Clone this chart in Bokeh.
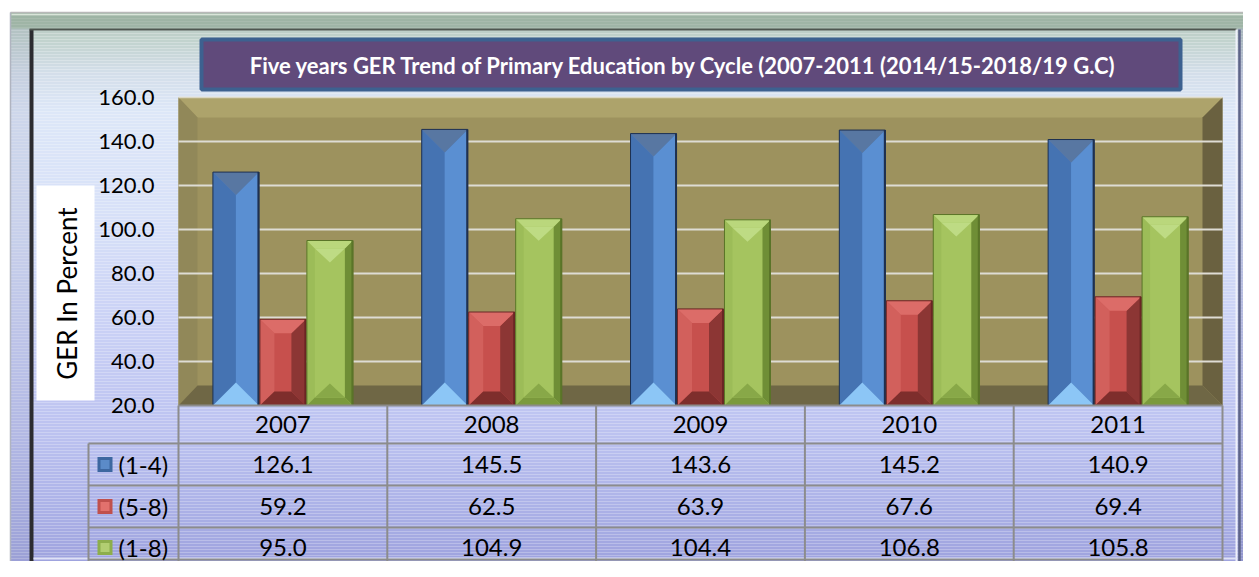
import numpy as np
from bokeh.plotting import figure
from bokeh.models import Range1d
from bokeh.core.properties import value
from bokeh.embed import file_html
from bokeh.resources import INLINE

# ---------------- data ----------------
years = ["2007", "2008", "2009", "2010", "2011"]
series_names = ["(1-4)", "(5-8)", "(1-8)"]
ger_1_4 = [126.1, 145.5, 143.6, 145.2, 140.9]
ger_5_8 = [59.2, 62.5, 63.9, 67.6, 69.4]
ger_1_8 = [95.0, 104.9, 104.4, 106.8, 105.8]
y_ticks = [20, 40, 60, 80, 100, 120, 140, 160]
title_text = "Five  years GER Trend  of  Primary Education by Cycle (2007-2011 (2014/15-2018/19 G.C)"
y_label = "GER In Percent"

# ---------------- layout (pixels) ----------------
W, H = 1243, 561
OX, OY = 0, 0
PA_L, PA_R, PA_T, PA_B = 178, 1222, 97, 405
YMIN, YMAX = 20, 160
N = len(years)
XPX = N / (PA_R - PA_L)
YPX = (YMAX - YMIN) / (PA_B - PA_T)

FONT = "Lato"

p = figure(width=W, height=H,
           x_range=Range1d((OX - PA_L) * XPX, (OX + W - PA_L) * XPX),
           y_range=Range1d(YMIN - (OY + H - PA_B) * YPX, YMAX + (PA_T - OY) * YPX),
           x_axis_type=None, y_axis_type=None, toolbar_location=None,
           output_backend="svg", min_border=0, outline_line_color=None,
           background_fill_color="white", border_fill_color="white")
p.extra_x_ranges = {"px": Range1d(OX, OX + W)}
p.extra_y_ranges = {"px": Range1d(OY + H, OY)}

PX = dict(x_range_name="px", y_range_name="px")
BOT = OY + H


def hexrgb(h):
    h = h.lstrip("#")
    return tuple(int(h[i:i + 2], 16) for i in (0, 2, 4))


def mix(c1, c2, t):
    a, b = hexrgb(c1), hexrgb(c2)
    return "#%02x%02x%02x" % tuple(int(round(a[i] + (b[i] - a[i]) * t)) for i in range(3))


# ---------------- background gradient ----------------
stops = [(12, "#b6c9bd"), (40, "#c2d3cf"), (70, "#d3dee9"), (110, "#dde7f8"),
         (220, "#d7e0f8"), (330, "#c9d0f5"), (430, "#bcc2f0"), (500, "#adb3e8"),
         (577, "#9a9edb")]
gl, gr, gt, gb, gc = [], [], [], [], []
for y in np.arange(12, BOT, 3):
    col = stops[-1][1]
    for k in range(len(stops) - 1):
        if stops[k][0] <= y <= stops[k + 1][0]:
            t = (y - stops[k][0]) / (stops[k + 1][0] - stops[k][0])
            col = mix(stops[k][1], stops[k + 1][1], t)
            break
    gl.append(10); gr.append(OX + W); gt.append(y); gb.append(min(y + 3, BOT)); gc.append(col)
p.quad(left=gl, right=gr, top=gt, bottom=gb, fill_color=gc, line_color=None, **PX)

# frame bands
p.quad(left=[10], right=[OX + W], top=[12], bottom=[28], fill_color="#7f9a82", fill_alpha=0.45,
       line_color=None, **PX)
p.quad(left=[10], right=[29], top=[28], bottom=[BOT], fill_color="#8890b0", fill_alpha=0.18,
       line_color=None, **PX)
p.quad(left=[1237], right=[OX + W], top=[28], bottom=[BOT], fill_color="#6a70a0", fill_alpha=0.25,
       line_color=None, **PX)
p.segment(x0=[10], x1=[OX + W], y0=[12], y1=[12], line_color="#b8b8b8", line_width=1.5, **PX)
p.segment(x0=[10], x1=[10], y0=[12], y1=[BOT], line_color="#b0b4c0", line_width=1.5, **PX)
p.segment(x0=[11], x1=[OX + W], y0=[14], y1=[14], line_color="#d8e4d8", line_width=1.5, **PX)
# inner recess edges
p.quad(left=[29], right=[33], top=[29], bottom=[BOT], fill_color="#2c2c30", line_color=None, **PX)
p.segment(x0=[29], x1=[1236], y0=[29], y1=[29], line_color="#4e5650", line_width=2, **PX)
p.segment(x0=[1236], x1=[1236], y0=[29], y1=[BOT], line_color="#eef0fa", line_width=2, **PX)
p.segment(x0=[1239], x1=[1239], y0=[29], y1=[BOT], line_color="#5e6488", line_width=2.5, **PX)
p.segment(x0=[33], x1=[1236], y0=[558], y1=[558], line_color="#dfe2f6", line_width=2, **PX)

# ---------------- title ----------------
p.quad(left=[201], right=[1180], top=[39], bottom=[89], fill_color="#604a7b",
       line_color="#3d6190", line_width=4, **PX)
p.text(x=[691], y=[65], text=[title_text], text_font=value(FONT), text_font_style="bold",
       text_font_size="22px", text_color="white", text_align="center",
       text_baseline="middle", **PX)

# ---------------- y label ----------------
p.quad(left=[36], right=[94], top=[185], bottom=[400], fill_color="white", line_color=None, **PX)
p.text(x=[66], y=[293], text=[y_label], angle=np.pi / 2, text_font=value(FONT),
       text_font_size="26px", text_color="black", text_align="center",
       text_baseline="middle", **PX)

# ---------------- plot area (3-D box) ----------------
p.quad(left=[PA_L], right=[PA_R], top=[PA_T], bottom=[PA_B], fill_color="#9d925e",
       line_color=None, **PX)
p.patch(x=[PA_L, PA_R, PA_R - 20, PA_L + 19], y=[PA_T, PA_T, PA_T + 20, PA_T + 20],
        fill_color="#ada36b", line_color=None, **PX)
p.patch(x=[PA_L, PA_L + 19, PA_L + 19, PA_L], y=[PA_T, PA_T + 20, PA_B - 20, PA_B],
        fill_color="#918859", line_color=None, **PX)
p.patch(x=[PA_R, PA_R - 20, PA_R - 20, PA_R], y=[PA_T, PA_T + 20, PA_B - 20, PA_B],
        fill_color="#6a6140", line_color=None, **PX)
p.patch(x=[PA_L, PA_L + 19, PA_R - 20, PA_R], y=[PA_B, PA_B - 20, PA_B - 20, PA_B],
        fill_color="#6f6745", line_color=None, **PX)
p.segment(x0=[PA_L], x1=[PA_R], y0=[PA_T], y1=[PA_T], line_color="#dcd8c4", line_width=1.5, **PX)

# gridlines (value scale)
grid_vals = [t for t in y_ticks if YMIN < t < YMAX]
p.segment(x0=[PA_L] * len(grid_vals), x1=[PA_R] * len(grid_vals), y0=grid_vals, y1=grid_vals,
          line_color="#dedcd4", line_width=2, x_range_name="px")

# y tick labels
p.text(x=[154] * len(y_ticks), y=y_ticks, text=["%.1f" % t for t in y_ticks],
       text_font=value(FONT), text_font_size="22px", text_color="black",
       text_align="right", text_baseline="middle", x_range_name="px")

# ---------------- bars with bevel ----------------
BW = 46 * XPX
idx = np.arange(N) + 0.5


def bevel_bar(vals, off, bxp, byp, cols, outline, inner_tri=None):
    xc = idx + off
    L = xc - BW / 2
    R = xc + BW / 2
    T = np.array(vals, dtype=float)
    B = np.full(N, float(YMIN))
    bx = min(bxp * XPX, BW / 2)
    by = byp * YPX
    p.quad(left=L, right=R, top=T, bottom=B, fill_color=cols["face"], line_color=None)
    pieces = {
        "left": ([[l, l + bx, l + bx, l] for l in L], [[t, t - by, b + by, b] for t, b in zip(T, B)]),
        "right": ([[r, r - bx, r - bx, r] for r in R], [[t, t - by, b + by, b] for t, b in zip(T, B)]),
        "top": ([[l, r, r - bx, l + bx] for l, r in zip(L, R)], [[t, t, t - by, t - by] for t in T]),
        "bottom": ([[l, r, r - bx, l + bx] for l, r in zip(L, R)], [[b, b, b + by, b + by] for b in B]),
    }
    for k, (xs_, ys_) in pieces.items():
        p.patches(xs=xs_, ys=ys_, fill_color=cols[k], line_color=None)
    if inner_tri is not None:
        h, ctop, cbot = inner_tri
        hh = h * YPX
        p.patches(xs=[[l + bx, r - bx, c] for l, r, c in zip(L, R, xc)],
                  ys=[[t - by, t - by, t - by - hh] for t in T], fill_color=ctop, line_color=None)
        p.patches(xs=[[l + bx, r - bx, c] for l, r, c in zip(L, R, xc)],
                  ys=[[b + by, b + by, b + by + hh] for b in B], fill_color=cbot, line_color=None)
    p.quad(left=L, right=R, top=T, bottom=B, fill_color=None, line_color=outline, line_width=1)
    p.segment(x0=R - 0.5 * XPX, x1=R - 0.5 * XPX, y0=T, y1=B, line_color=outline, line_width=2)


bevel_bar(ger_1_4, -0.225, 23, 23,
          dict(face="#4f80c0", left="#4573b2", right="#5a8fd2", top="#5877a2", bottom="#8cc6f6"),
          "#1e3050")
bevel_bar(ger_5_8, 0.0, 14.5, 14,
          dict(face="#c7504d", left="#d2605c", right="#8c3634", top="#dc6c68", bottom="#7e2e2c"),
          "#6a2624")
bevel_bar(ger_1_8, 0.225, 8, 8,
          dict(face="#a5c45f", left="#9cbc58", right="#6f8e36", top="#bad77c", bottom="#7b9a3d"),
          "#5a7428", inner_tri=(14, "#bedb84", "#88a848"))

# ---------------- data table ----------------
row_top = [405, 443, 485, 527]
row_bot = [443, 485, 527, 559]
row_mid = [424, 464, 506, 547]
TBL = "#8c8c8c"
p.segment(x0=[PA_L], x1=[PA_R], y0=[405], y1=[405], line_color=TBL, line_width=2, **PX)
p.segment(x0=[88] * 4, x1=[PA_R] * 4, y0=row_bot, y1=row_bot, line_color=TBL, line_width=2, **PX)
bounds = list(range(N + 1))
p.segment(x0=bounds, x1=bounds, y0=[405] * len(bounds), y1=[BOT] * len(bounds),
          line_color=TBL, line_width=2, y_range_name="px")
p.segment(x0=[88], x1=[88], y0=[443], y1=[BOT], line_color=TBL, line_width=2, **PX)

p.text(x=idx, y=[row_mid[0]] * N, text=years, text_font=value(FONT), text_font_size="24px",
       text_color="black", text_align="center", text_baseline="middle", y_range_name="px")
for r, vals in enumerate([ger_1_4, ger_5_8, ger_1_8]):
    p.text(x=idx, y=[row_mid[r + 1]] * N, text=["%.1f" % v for v in vals], text_font=value(FONT),
           text_font_size="24px", text_color="black", text_align="center",
           text_baseline="middle", y_range_name="px")

# legend column
sw_out = ["#3d67a0", "#c0504d", "#8dae4c"]
sw_in = ["#5b8bc8", "#e2716d", "#b2ce72"]
sw_y = row_mid[1:]
p.quad(left=[97] * 3, right=[112] * 3, top=[y - 7.5 for y in sw_y], bottom=[y + 7.5 for y in sw_y],
       fill_color=sw_out, line_color=None, **PX)
p.quad(left=[100] * 3, right=[109] * 3, top=[y - 4.5 for y in sw_y], bottom=[y + 4.5 for y in sw_y],
       fill_color=sw_in, line_color=None, **PX)
p.text(x=[118] * 3, y=sw_y, text=series_names, text_font=value(FONT), text_font_size="24px",
       text_color="black", text_align="left", text_baseline="middle", **PX)

open("out.html", "w").write(file_html(p, INLINE))
